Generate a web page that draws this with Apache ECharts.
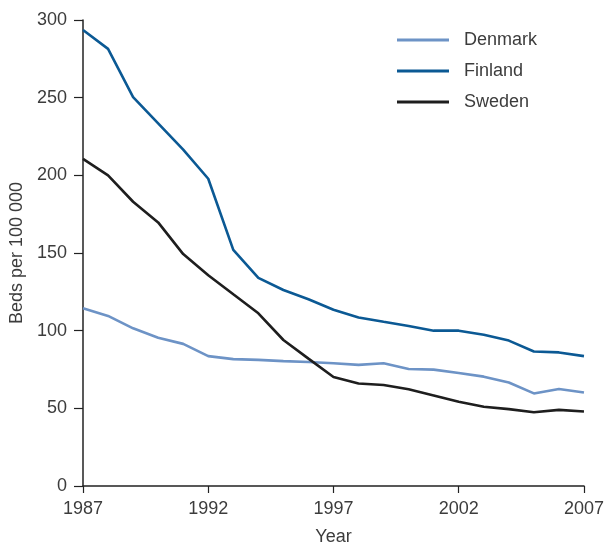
<!DOCTYPE html>
<html><head><meta charset="utf-8">
<script src="https://cdn.jsdelivr.net/npm/echarts@6/dist/echarts.min.js"></script>
<style>html,body{margin:0;padding:0;background:#fff}#c{width:607px;height:551px}</style>
</head><body><div id="c"></div>
<script>
const years = [1987,1988,1989,1990,1991,1992,1993,1994,1995,1996,1997,1998,1999,2000,2001,2002,2003,2004,2005,2006,2007];
const denmark = [114.5,109.5,101.5,95.5,91.5,83.6,81.7,81.2,80.4,79.8,79,78,79,75.3,74.9,72.8,70.4,66.6,59.6,62.5,60.2];
const finland = [293.6,281.4,250.4,233.5,216.5,197.8,152,134,126.2,120.2,113.5,108.5,105.7,103,100,100,97.4,93.6,86.6,86,83.6];
const sweden = [210.6,200,183,169.7,149.3,135.7,123.4,111.2,94,82,70.2,66,65,62.3,58.3,54.2,51,49.5,47.5,49,48];
const seriesNames = ['Denmark','Finland','Sweden'];
const colors = ['#6d93c6','#0b5994','#1e1e1e'];

const toPairs = arr => years.map((y,i)=>[y,arr[i]]);
const font = '"Liberation Sans", Arial, sans-serif';
const txt = '#3c3c3c';
const chart = echarts.init(document.getElementById('c'));
chart.setOption({
  animation:false,
  grid:{left:83,right:17,top:20,bottom:59,containLabel:false},
  legend:{
    left:392, top:26, orient:'vertical', itemGap:13,
    itemWidth:52, itemHeight:3, icon:'rect',
    textStyle:{fontFamily:font, fontSize:18, color:txt, padding:[0,0,0,10]},
    data:seriesNames
  },
  xAxis:{
    type:'value', min:1987, max:2007, interval:5,
    name:'Year', nameLocation:'middle', nameGap:42,
    nameTextStyle:{fontFamily:font,fontSize:18,color:txt},
    axisLine:{show:true,onZero:false,lineStyle:{color:'#222',width:1.5}},
    axisTick:{show:true,length:7,lineStyle:{color:'#222',width:1.2}},
    axisLabel:{fontFamily:font,fontSize:18,color:txt,margin:14,formatter:v=>String(v)},
    splitLine:{show:false}
  },
  yAxis:{
    type:'value', min:0, max:300, interval:50,
    name:'Beds per 100 000', nameLocation:'middle', nameGap:55, nameRotate:90,
    nameTextStyle:{fontFamily:font,fontSize:18,color:txt},
    axisLine:{show:true,lineStyle:{color:'#222',width:1.5}},
    axisTick:{show:true,length:9,lineStyle:{color:'#222',width:1.2}},
    axisLabel:{fontFamily:font,fontSize:18,color:txt,margin:16},
    splitLine:{show:false}
  },
  series:[
    {name:seriesNames[0],type:'line',data:toPairs(denmark),symbol:'none',lineStyle:{color:colors[0],width:2.6},itemStyle:{color:colors[0]}},
    {name:seriesNames[1],type:'line',data:toPairs(finland),symbol:'none',lineStyle:{color:colors[1],width:2.6},itemStyle:{color:colors[1]}},
    {name:seriesNames[2],type:'line',data:toPairs(sweden),symbol:'none',lineStyle:{color:colors[2],width:2.6},itemStyle:{color:colors[2]}}
  ]
});
</script></body></html>
